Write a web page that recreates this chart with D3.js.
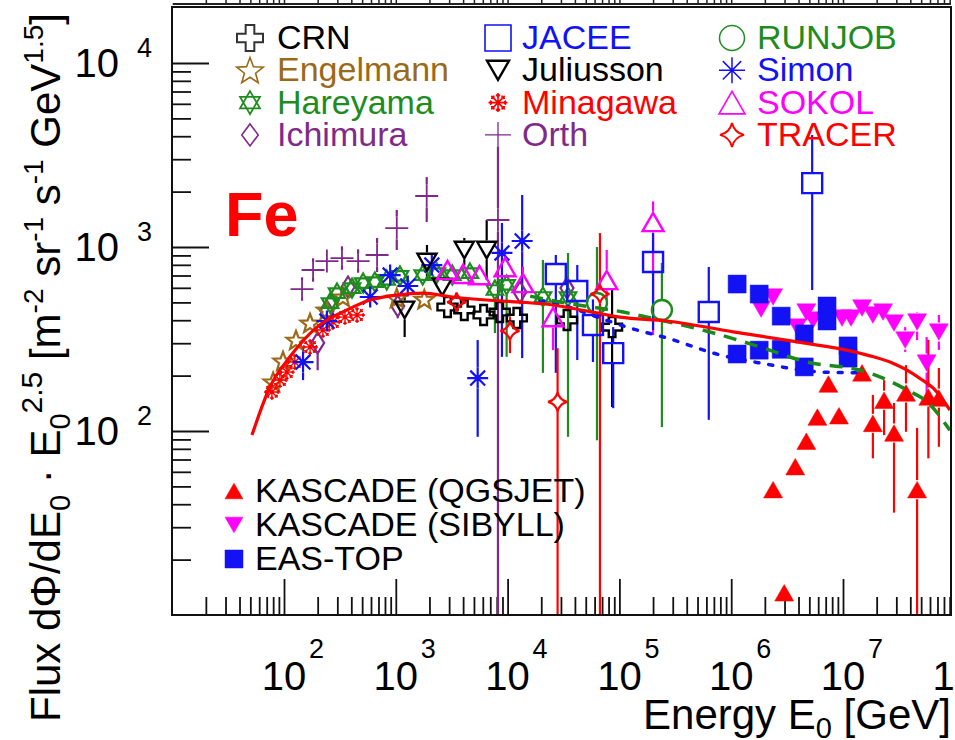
<!DOCTYPE html>
<html><head><meta charset="utf-8">
<script src="https://cdn.jsdelivr.net/npm/d3@7"></script>
<style>
body{margin:0;background:#fff}
svg{display:block}
text{font-family:"Liberation Sans",Arial,Helvetica,sans-serif}
</style>
</head><body>
<svg id="c" width="955" height="740"></svg>
<script>
// ---------------- DATA (E [GeV], flux, errLow, errHigh) ----------------
const CRN = [[2.9e3,472],[4.1e3,455],[6.1e3,427],[8.5e3,443],[1.21e4,411],[3.4e4,401],[8.6e4,367,135,584]];
const Engelmann = [[80,185],[98,240],[128,312],[171,386],[240,455],[337,535],[1.02e3,528],[1.8e3,520]];
const Hareyama = [[258,496],[298,562],[406,598],[510,637],[650,645],[830,662],[1.09e3,696],[1.74e3,704],[2.33e3,722],[3.2e3,704],[4.6e3,722],[7.7e3,584,341,662],[9.8e3,622,253,687],[2.07e4,535,207,850],[3.47e4,535,93,928]];
const Ichimura = [[200,301,214,343],[242,449],[374,606],[1.04e3,478,410,560],[1.29e4,569],[3.4e4,598]];
const JACEE = [[2.7e4,713,207,905],[4.2e4,577,243,798],[5.8e4,377,237,519],[8.8e4,265,133,367],[2.0e5,829,354,1190],[6.3e5,443,115,779],[5.3e6,2225,584,4060]];
const Juliusson = [[1.2e3,455,324,562],[1.9e3,829,662,1025],[2.6e3,606],[4.1e3,963,798,1120],[6.5e3,963,662,1400]];
const Minagawa = [[78,163],[92,189],[106,209],[125,237],[171,286],[223,354],[274,391],[351,416],[450,427]];
const Orth = [[145,591,530,660],[182,750,680,830],[242,839],[330,871,790,960],[460,839,760,925],[680,905,731,1120],[1.02e3,1268,963,1590],[1.89e3,1893,1367,2400],[8.2e3,1402,1,3500]];
const RUNJOB = [[6.3e4,496,89,1000],[2.4e5,455,105,819]];
const Simon = [[148,237,189,286],[242,396],[590,535],[890,704],[1.28e3,614],[2.1e3,798],[5.4e3,194,93,312],[8.9e3,928,253,1350],[1.35e4,1078,249,1918]];
const SOKOL = [[2.9e3,750],[4.0e3,715],[5.6e3,704],[9.5e3,778,690,960],[1.37e4,637,520,780],[2.55e4,416,275,472],[7.7e4,662,515,963],[2.0e5,1367,332,1770]];
const TRACER = [[3.5e3,502],[1.05e4,350,265,416],[2.8e4,144,1,282],[6.7e4,555,1,1190]];
const KASCADE_QGSJET = [[2.37e6,48],[2.98e6,13.2],[3.74e6,64],[4.7e6,88],[5.9e6,119],[7.4e6,180],[9.2e6,121],[1.48e7,207],[1.85e7,110,71,157],[2.33e7,147,95,189],[2.86e7,97.5,36,142],[3.66e7,161,99,228],[4.6e7,48,1,104],[5.8e7,153,71,313],[7.2e7,151,82,220]];
const KASCADE_SIBYLL = [[1.85e6,460],[2.37e6,535],[3.9e6,367],[4.7e6,443],[5.4e6,401],[9.8e6,411],[1.18e7,411],[1.48e7,466],[1.85e7,427],[2.28e7,443],[2.86e7,386],[3.6e7,312,269,367],[4.6e7,391,312,443],[5.6e7,234,161,324],[7.2e7,345,276,427]];
const EASTOP_1 = [[1.13e6,629],[1.78e6,555],[2.8e6,421],[4.5e6,337],[7.2e6,478],[1.11e7,290]];
const EASTOP_2 = [[1.13e6,262],[1.78e6,275],[2.8e6,278],[4.5e6,223],[7.2e6,396],[1.11e7,249]];
// model curves
const modelSolid = [[51.7,95],[75,174],[113,253],[197,367],[366,455],[590,515],[1.02e3,548],[1.74e3,562],[3.2e3,535],[6.5e3,515],[1.29e4,502],[2.55e4,484],[5.1e4,449],[1.01e5,416],[2.67e5,396],[1.04e6,346],[4.15e6,303],[1.24e7,270],[1.87e7,253],[2.82e7,233],[3.71e7,215],[4.88e7,193],[6.42e7,171],[9.05e7,130]];
const modelDashed = [[1.59e4,541],[2.94e4,502],[1.08e5,443],[2.31e5,401],[6.46e5,345],[1.82e6,286],[4.79e6,237],[1.42e7,214],[2.28e7,194],[3.74e7,167],[5.65e7,144],[9.04e7,101]];
const modelDotted = [[1.95e4,515],[3.77e4,466],[6.7e4,411],[1.24e5,363],[2.67e5,320],[7.95e5,259],[1.82e6,234],[6.64e6,209],[1.57e7,207]];
// tick labels (powers of ten)
const xExps = [2,3,4,5,6,7,8];
const yExps = [2,3,4];

// ---------------- STYLE ----------------
const C = {black:"#000000", brown:"#9a6a18", green:"#1e8c1e", purple:"#7f2a8a", blue:"#1212f5", red:"#ff0000", magenta:"#ff00ff"};
const series = [
  {data:Orth, m:"plus", c:C.purple, s:23, lw:1.8},
  {data:Ichimura, m:"diamond", c:C.purple, s:21, lw:2.2},
  {data:Engelmann, m:"star5", c:C.brown, s:20, lw:2.2},
  {data:Minagawa, m:"snow", c:C.red, s:16, lw:1.4},
  {data:Hareyama, m:"david", c:C.green, s:19, lw:2.2},
  {data:Simon, m:"asterisk", c:C.blue, s:21, lw:2.2},
  {data:Juliusson, m:"tridown", c:C.black, s:19, lw:2.4},
  {data:CRN, m:"cross", c:C.black, s:20, lw:2.4},
  {data:SOKOL, m:"triup", c:C.magenta, s:21, lw:2.4},
  {data:JACEE, m:"square", c:C.blue, s:20, lw:2.4},
  {data:RUNJOB, m:"circle", c:C.green, s:20, lw:2.4},
  {data:TRACER, m:"astroid", c:C.red, s:19, lw:2.2},
  {data:KASCADE_SIBYLL, m:"tridown", c:C.magenta, s:19, fill:true},
  {data:EASTOP_1, m:"square", c:C.blue, s:18, fill:true},
  {data:EASTOP_2, m:"square", c:C.blue, s:18, fill:true},
  {data:KASCADE_QGSJET, m:"triup", c:C.red, s:19, fill:true}
];

function mk(type, s, wr){
  const h = s/2;
  const f = v => v.toFixed(2);
  switch(type){
    case "cross": { const a = s/6; return `M${-a},${-h}H${a}V${-a}H${h}V${a}H${a}V${h}H${-a}V${a}H${-h}V${-a}H${-a}Z`; }
    case "star5": { let p=""; for(let i=0;i<10;i++){ const r=i%2?h*0.42:h; const an=-Math.PI/2+i*Math.PI/5; p+=(i?"L":"M")+f(r*Math.cos(an))+","+f(r*Math.sin(an)+h*0.08);} return p+"Z"; }
    case "david": { let p=""; [-90,90].forEach(st=>{ for(let i=0;i<3;i++){ const an=(st+i*120)*Math.PI/180; p+=(i?"L":"M")+f(h*Math.cos(an))+","+f(h*Math.sin(an)); } p+="Z"; }); return p; }
    case "diamond": { const w=h*(wr||0.62); return `M0,${-h}L${f(w)},0L0,${h}L${f(-w)},0Z`; }
    case "square": return `M${-h},${-h}H${h}V${h}H${-h}Z`;
    case "triup": { const t=s*0.87/2; return `M0,${f(-t)}L${h},${f(t)}L${-h},${f(t)}Z`; }
    case "tridown": { const t=s*0.87/2; return `M0,${f(t)}L${h},${f(-t)}L${-h},${f(-t)}Z`; }
    case "plus": return `M${-h},0H${h}M0,${-h}V${h}`;
    case "asterisk": { const d=h*0.7071; return `M${-h},0H${h}M0,${-h}V${h}M${f(-d)},${f(-d)}L${f(d)},${f(d)}M${f(-d)},${f(d)}L${f(d)},${f(-d)}`; }
    case "circle": return `M${h},0A${h},${h} 0 1 1 ${-h},0A${h},${h} 0 1 1 ${h},0Z`;
    case "astroid": { const c=h*0.2; return `M0,${-h}Q${f(c)},${f(-c)} ${h},0Q${f(c)},${f(c)} 0,${h}Q${f(-c)},${f(c)} ${-h},0Q${f(-c)},${f(-c)} 0,${-h}Z`; }
    case "snow": { let p=""; for(let k=0;k<8;k++){ const an=k*Math.PI/4, ca=Math.cos(an), sa=Math.sin(an);
        p+=`M0,0L${f(h*ca)},${f(h*sa)}`;
        const bx=h*0.6*ca, by=h*0.6*sa, b=h*0.32;
        [an+0.7, an-0.7].forEach(a2=>{ p+=`M${f(bx)},${f(by)}L${f(bx+b*Math.cos(a2))},${f(by+b*Math.sin(a2))}`; });
      } return p; }
  }
}

// ---------------- CHART ----------------
const svg = d3.select("#c");
const L=172, R=951, T=7, B=615;
const x = d3.scaleLog().domain([10,1e8]).range([172.2,954.8]);
const y = d3.scaleLog().domain([10,1e4]).range([615,63]);

const majorX = d3.range(2,8).map(e=>10**e);
const minorX = []; for(let e=1;e<8;e++) for(let m=2;m<10;m++) minorX.push(m*10**e);
const majorY = [100,1000,10000];
const minorY = []; for(let e=1;e<4;e++) for(let m=2;m<10;m++) minorY.push(m*10**e);

svg.append("defs").append("clipPath").attr("id","clip").append("rect").attr("x",L).attr("y",T).attr("width",R-L).attr("height",B-T);
svg.append("defs").append("clipPath").attr("id","clipTop").append("rect").attr("x",L).attr("y",0).attr("width",R-L).attr("height",5);

// neighbouring panel edge at the very top
const topG = svg.append("g").attr("clip-path","url(#clipTop)");
topG.append("g").attr("transform","translate(0,3.5)")
  .call(d3.axisTop(x).tickValues(majorX.concat(minorX)).tickSizeInner(6).tickSizeOuter(0).tickFormat(""))
  .call(g=>{g.selectAll("line").attr("stroke","#222").attr("stroke-width",1.5); g.select(".domain").attr("stroke","#222").attr("stroke-width",2);});

// axes ticks
function styleAx(g){ g.select(".domain").remove(); g.selectAll("line").attr("stroke","#111").attr("stroke-width",1.8); }
svg.append("g").attr("transform",`translate(0,${B})`).call(d3.axisBottom(x).tickValues(majorX).tickSizeInner(-36).tickSizeOuter(0).tickFormat("")).call(styleAx);
svg.append("g").attr("transform",`translate(0,${B})`).call(d3.axisBottom(x).tickValues(minorX).tickSizeInner(-18).tickSizeOuter(0).tickFormat("")).call(styleAx);
svg.append("g").attr("transform",`translate(${L},0)`).call(d3.axisLeft(y).tickValues(majorY).tickSizeInner(-37).tickSizeOuter(0).tickFormat("")).call(styleAx);
svg.append("g").attr("transform",`translate(${L},0)`).call(d3.axisLeft(y).tickValues(minorY).tickSizeInner(-19).tickSizeOuter(0).tickFormat("")).call(styleAx);

// tick labels
xExps.forEach(e=>{
  const px = x(10**e);
  svg.append("text").attr("x",px).attr("y",690).attr("text-anchor","middle").attr("font-size",40).text("10");
  svg.append("text").attr("x",px+25).attr("y",658).attr("font-size",27).text(e);
});
yExps.forEach(e=>{
  const py = y(10**e);
  svg.append("text").attr("x",119).attr("y",py+14).attr("text-anchor","end").attr("font-size",40).text("10");
  svg.append("text").attr("x",137).attr("y",py-6).attr("font-size",27).text(e);
});

// axis titles
const xt = svg.append("text").attr("x",951).attr("y",729).attr("text-anchor","end").attr("font-size",42);
xt.append("tspan").text("Energy E");
xt.append("tspan").attr("font-size",29).attr("dy",9).text("0");
xt.append("tspan").attr("dy",-9).text(" [GeV]");

const yt = svg.append("text").attr("transform","translate(60,722) rotate(-90)").attr("font-size",42);
const ypieces = [["Flux d\u03A6/dE",0,null],["0",10,29],[" \u00B7 E",-10,null],["0",10,29],["2.5",-28,30],[" [m",18,null],["-2",-17,28],[" sr",17,null],["-1",-17,28],[" s",17,null],["-1",-17,28],[" GeV",17,null],["1.5",-17,28],["]",17,null]];
ypieces.forEach(([t,dy,fs])=>{ const ts=yt.append("tspan").attr("dy",dy).text(t); if(fs) ts.attr("font-size",fs); });

// plot contents
const plot = svg.append("g").attr("clip-path","url(#clip)");

// error bars
series.forEach(sr=>{
  const g = sr.s*0.5;
  sr.data.filter(d=>d.length>2).forEach(d=>{
    const px=x(d[0]), py=y(d[1]);
    const yl=y(d[2]), yh=y(d[3]);
    plot.append("line").attr("x1",px).attr("x2",px).attr("y1",yh).attr("y2",Math.min(py-g,yl)).attr("stroke",sr.c).attr("stroke-width",2.2);
    plot.append("line").attr("x1",px).attr("x2",px).attr("y1",Math.max(py+g,yh)).attr("y2",yl).attr("stroke",sr.c).attr("stroke-width",2.2);
  });
});
// markers
series.forEach(sr=>{
  plot.append("g").selectAll("path").data(sr.data).join("path")
    .attr("transform",d=>`translate(${x(d[0])},${y(d[1])})`)
    .attr("d",mk(sr.m,sr.s))
    .attr("fill",sr.fill?sr.c:"none")
    .attr("stroke",sr.c)
    .attr("stroke-width",sr.fill?0.5:(sr.lw||2))
    .attr("stroke-linejoin","miter");
});
// model lines
const line = d3.line().x(d=>x(d[0])).y(d=>y(d[1])).curve(d3.curveMonotoneX);
plot.append("path").datum(modelDotted).attr("d",line).attr("fill","none").attr("stroke",C.blue).attr("stroke-width",3.5).attr("stroke-dasharray","4,10").attr("stroke-linecap","round");
plot.append("path").datum(modelDashed).attr("d",line).attr("fill","none").attr("stroke","#1a8a1a").attr("stroke-width",3.5).attr("stroke-dasharray","13,9");
plot.append("path").datum(modelSolid).attr("d",line).attr("fill","none").attr("stroke",C.red).attr("stroke-width",3.2);

// frame
svg.append("rect").attr("x",L).attr("y",T).attr("width",R-L).attr("height",B-T).attr("fill","none").attr("stroke","#111").attr("stroke-width",2);

// element label
svg.append("text").attr("x",225).attr("y",236).attr("font-size",63).attr("font-weight","bold").attr("fill",C.red).text("Fe");

// top legend
const legTop = [
  {t:"CRN", m:"cross", c:"#333", tc:C.black, s:26, col:0, row:0, lw:2},
  {t:"Engelmann", m:"star5", c:C.brown, tc:C.brown, s:28, col:0, row:1, lw:1.6},
  {t:"Hareyama", m:"david", c:C.green, tc:C.green, s:23, col:0, row:2, lw:1.8},
  {t:"Ichimura", m:"diamond", c:C.purple, tc:C.purple, s:22, col:0, row:3, lw:1.6, wr:0.75},
  {t:"JACEE", m:"square", c:C.blue, tc:C.blue, s:26, col:1, row:0, lw:1.6},
  {t:"Juliusson", m:"tridown", c:C.black, tc:C.black, s:22, col:1, row:1, lw:2.4},
  {t:"Minagawa", m:"snow", c:C.red, tc:C.red, s:19, col:1, row:2, lw:1.6},
  {t:"Orth", m:"plus", c:C.purple, tc:C.purple, s:26, col:1, row:3, lw:1.3},
  {t:"RUNJOB", m:"circle", c:C.green, tc:C.green, s:25, col:2, row:0, lw:1.5},
  {t:"Simon", m:"asterisk", c:C.blue, tc:C.blue, s:26, col:2, row:1, lw:1.5},
  {t:"SOKOL", m:"triup", c:C.magenta, tc:C.magenta, s:26, col:2, row:2, lw:1.6},
  {t:"TRACER", m:"astroid", c:C.red, tc:C.red, s:24, col:2, row:3, lw:2}
];
const colMX=[250,498,732], colTX=[277,522,757];
legTop.forEach(e=>{
  const yb = 49 + e.row*32.3;
  svg.append("path").attr("transform",`translate(${colMX[e.col]},${yb-11})`).attr("d",mk(e.m,e.s,e.wr)).attr("fill","none").attr("stroke",e.c).attr("stroke-width",e.lw);
  svg.append("text").attr("x",colTX[e.col]).attr("y",yb).attr("font-size",34).attr("fill",e.tc).text(e.t);
});
// bottom legend
const legBot = [
  {t:"KASCADE (QGSJET)", m:"triup", c:C.red, yb:502},
  {t:"KASCADE (SIBYLL)", m:"tridown", c:C.magenta, yb:536},
  {t:"EAS-TOP", m:"square", c:C.blue, yb:570}
];
legBot.forEach(e=>{
  svg.append("path").attr("transform",`translate(234,${e.yb-11})`).attr("d",mk(e.m,18)).attr("fill",e.c).attr("stroke",e.c).attr("stroke-width",0.5);
  svg.append("text").attr("x",255).attr("y",e.yb).attr("font-size",34).attr("fill","#000").text(e.t);
});
</script>
</body></html>
